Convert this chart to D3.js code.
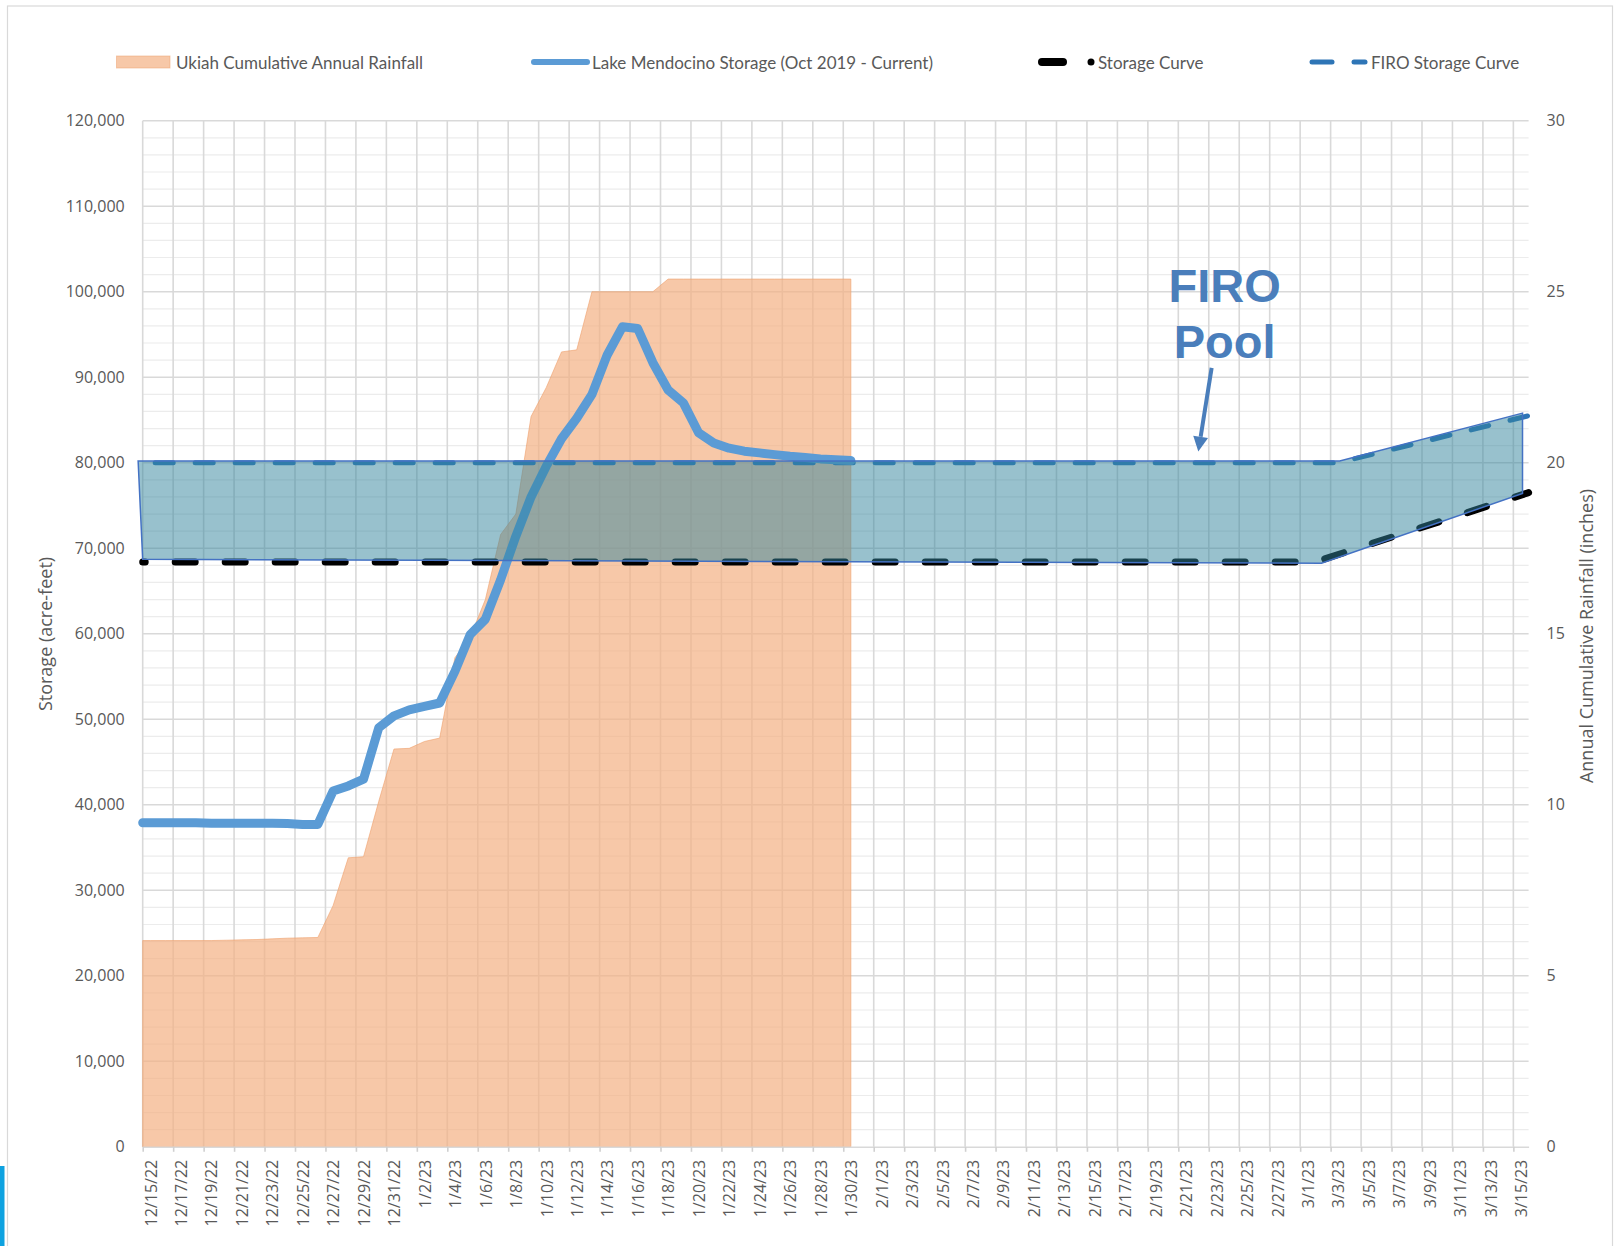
<!DOCTYPE html>
<html>
<head>
<meta charset="utf-8">
<script src="https://cdn.jsdelivr.net/npm/d3@7"></script>
<style>
html, body { margin: 0; padding: 0; background: #fff; }
svg { display: block; }
</style>
</head>
<body>
<div id="chart"></div>
<script>
// ---- data ----
var firstDay = "2022-12-15";
var lastDay = "2023-03-16";

// Lake Mendocino storage, acre-feet, one value a day from 12/15/22 to 1/30/23
var storageAF = [
	37900, 37900, 37900, 37900, 37850, 37850, 37850, 37850, 37850, 37800, 37700, 37700,
	41600, 42200, 43000, 49000, 50400, 51100, 51500, 51900, 55600, 59900, 61700, 66300,
	71400, 76000, 79600, 82800, 85200, 88000, 92600, 95900, 95700, 91700, 88500, 87000,
	83500, 82300, 81700, 81350, 81150, 80950, 80750, 80600, 80450, 80350, 80250
];

// Ukiah cumulative annual rainfall, inches, same days
var rainfallIn = [
	6.03, 6.03, 6.03, 6.03, 6.03, 6.04, 6.05, 6.06, 6.08, 6.10, 6.11, 6.12,
	7.05, 8.45, 8.48, 10.1, 11.63, 11.65, 11.85, 11.95, 14.3, 14.9, 16.0, 17.9,
	18.5, 21.35, 22.2, 23.24, 23.3, 25.0, 25.0, 25.0, 25.0, 25.0, 25.37, 25.37,
	25.37, 25.37, 25.37, 25.37, 25.37, 25.37, 25.37, 25.37, 25.37, 25.37, 25.37
];

var curveDates = ["2022-12-15T00:00", "2023-03-02T00:00", "2023-03-16T00:00"];
var storageCurveAF = [68400, 68400, 76500];

var firoDates = ["2022-12-15T00:00", "2023-03-03T12:00", "2023-03-16T00:00"];
var firoCurveAF = [80000, 80000, 85500];

// hand drawn FIRO pool shape: days after 12/15, acre-feet
var poolDays = [-0.3, 78.6, 90.6, 90.6, 77.4, 0];
var poolAF = [80200, 80200, 85800, 76400, 68250, 68700];

var storageTicks = [0, 10000, 20000, 30000, 40000, 50000, 60000, 70000, 80000, 90000, 100000, 110000, 120000];
var rainTicks = [0, 5, 10, 15, 20, 25, 30];

var legendLabels = [
	"Ukiah Cumulative Annual Rainfall",
	"Lake Mendocino Storage (Oct 2019 - Current)",
	"Storage Curve",
	"FIRO Storage Curve"
];

var poolText = ["FIRO", "Pool"];
var poolTextDate = "2023-02-24T01:00";
var poolTextAF = [98800, 92200];
var arrowFrom = ["2023-02-23T04:30", 91100];
var arrowTo = ["2023-02-22T07:30", 81300];

// ---- chart ----
function firo_chart(tag, width, height) {
	this.margin = {top: 120.7, right: 1617 - 1528.6, bottom: 1246 - 1146.8, left: 142.7};
	this.width = width - this.margin.left - this.margin.right;
	this.height = height - this.margin.top - this.margin.bottom;
	this.root = d3.select(tag)
		.append("svg")
		.attr("width", width)
		.attr("height", height);
	this.svg = this.root.append("g")
		.attr("transform", "translate(" + this.margin.left + "," + this.margin.top + ")");
	this.init();
}

firo_chart.prototype = {
	init : function() {
		var self = this;
		var pday = d3.utcParse("%Y-%m-%d");
		var ptime = d3.utcParse("%Y-%m-%dT%H:%M");
		self.t0 = pday(firstDay);
		self.t1 = pday(lastDay);
		self.ptime = ptime;
		self.x = d3.scaleUtc().domain([self.t0, self.t1]).range([0, self.width]);
		self.yL = d3.scaleLinear().domain([0, 120000]).range([self.height, 0]);
		self.yR = d3.scaleLinear().domain([0, 30]).range([self.height, 0]);

		// daily values sit in the middle of their day, first one carried to the left edge
		var daily = function(arr) {
			var pts = [{t: self.t0, v: arr[0]}];
			arr.forEach(function(v, i) {
				pts.push({t: d3.utcHour.offset(d3.utcDay.offset(self.t0, i), 12), v: v});
			});
			return pts;
		};
		self.storage = daily(storageAF);
		self.rain = daily(rainfallIn);
		self.curve = curveDates.map(function(d, i) { return {t: ptime(d), v: storageCurveAF[i]}; });
		self.firo = firoDates.map(function(d, i) { return {t: ptime(d), v: firoCurveAF[i]}; });
		self.pool = poolDays.map(function(d, i) {
			return {t: new Date(self.t0.getTime() + d * 864e5), v: poolAF[i]};
		});
	},
	frame : function() {
		var self = this;
		self.root.append("rect")
			.attr("x", 7.5).attr("y", 6)
			.attr("width", 1605).attr("height", 1300)
			.attr("fill", "#fff")
			.attr("stroke", "#d9d9d9")
			.attr("stroke-width", 1.2);
		self.root.append("rect")
			.attr("x", 0).attr("y", 1166)
			.attr("width", 4.5).attr("height", 80)
			.attr("fill", "#0ea2e0");
	},
	grid : function() {
		var self = this;
		var minor = d3.range(0, 120001, 2000).filter(function(v) { return v % 10000 != 0; });
		self.svg.append("g").selectAll("line")
			.data(minor).enter().append("line")
			.attr("x1", 0).attr("x2", self.width)
			.attr("y1", function(d) { return self.yL(d); })
			.attr("y2", function(d) { return self.yL(d); })
			.attr("stroke", "#ececec")
			.attr("stroke-width", 1.2);
		self.svg.append("g").selectAll("line")
			.data(storageTicks.slice(1)).enter().append("line")
			.attr("x1", 0).attr("x2", self.width)
			.attr("y1", function(d) { return self.yL(d); })
			.attr("y2", function(d) { return self.yL(d); })
			.attr("stroke", "#d9d9d9")
			.attr("stroke-width", 1.6);
		self.svg.append("g").selectAll("line")
			.data(self.tickDates).enter().append("line")
			.attr("x1", function(d) { return self.x(d); })
			.attr("x2", function(d) { return self.x(d); })
			.attr("y1", 0).attr("y2", self.height)
			.attr("stroke", "#d9d9d9")
			.attr("stroke-width", 1.6);
	},
	axes : function() {
		var self = this;
		var half = self.x(d3.utcHour.offset(self.t0, 12)) - self.x(self.t0);
		var gx = self.svg.append("g")
			.attr("transform", "translate(0," + self.height + ")")
			.call(d3.axisBottom(self.x)
				.tickValues(self.tickDates)
				.tickFormat(d3.utcFormat("%-m/%-d/%y"))
				.tickSize(5)
				.tickSizeOuter(0));
		gx.select(".domain").attr("stroke", "#d9d9d9").attr("stroke-width", 1.6);
		gx.selectAll(".tick line").attr("stroke", "#d0d0d0").attr("stroke-width", 1.6);
		gx.selectAll(".tick text")
			.attr("transform", "translate(" + half + ",13) rotate(-90)")
			.attr("y", 0)
			.attr("dy", "0.36em")
			.attr("text-anchor", "end");

		var gl = self.svg.append("g")
			.call(d3.axisLeft(self.yL)
				.tickValues(storageTicks)
				.tickFormat(d3.format(","))
				.tickSize(0)
				.tickPadding(18));
		var gr = self.svg.append("g")
			.attr("transform", "translate(" + self.width + ",0)")
			.call(d3.axisRight(self.yR)
				.tickValues(rainTicks)
				.tickSize(0)
				.tickPadding(18));
		gl.select(".domain").remove();
		gr.select(".domain").remove();

		[gx, gl, gr].forEach(function(g) {
			g.attr("font-family", "'Open Sans', sans-serif")
				.attr("font-size", 16);
			g.selectAll("text").attr("fill", "#595959");
		});

		self.root.append("text")
			.attr("transform", "translate(45,634) rotate(-90)")
			.attr("text-anchor", "middle")
			.attr("dominant-baseline", "central")
			.style("font-family", "'Open Sans', sans-serif")
			.style("font-size", "18px")
			.style("fill", "#595959")
			.text("Storage (acre-feet)");
		self.root.append("text")
			.attr("transform", "translate(1586,636) rotate(-90)")
			.attr("text-anchor", "middle")
			.attr("dominant-baseline", "central")
			.style("font-family", "'Open Sans', sans-serif")
			.style("font-size", "18px")
			.style("fill", "#595959")
			.text("Annual Cumulative Rainfall (inches)");
	},
	series : function() {
		var self = this;
		var area = d3.area()
			.x(function(d) { return self.x(d.t); })
			.y0(self.height)
			.y1(function(d) { return self.yR(d.v); });
		self.svg.append("path")
			.datum(self.rain)
			.attr("d", area)
			.attr("fill", "#f4b183")
			.attr("fill-opacity", 0.7)
			.attr("stroke", "#eea06c")
			.attr("stroke-opacity", 0.6)
			.attr("stroke-width", 1);

		var line = d3.line()
			.x(function(d) { return self.x(d.t); })
			.y(function(d) { return self.yL(d.v); });

		self.svg.append("path")
			.datum(self.curve)
			.attr("d", line)
			.attr("fill", "none")
			.attr("stroke", "#000")
			.attr("stroke-width", 7)
			.attr("stroke-linecap", "round")
			.attr("stroke-dasharray", "20 30")
			.attr("stroke-dashoffset", 17.5);

		self.svg.append("path")
			.datum(self.firo)
			.attr("d", line)
			.attr("fill", "none")
			.attr("stroke", "#2e75b6")
			.attr("stroke-width", 5)
			.attr("stroke-linecap", "round")
			.attr("stroke-dasharray", "18 22")
			.attr("stroke-dashoffset", 27.5);

		self.svg.append("path")
			.datum(self.storage)
			.attr("d", line)
			.attr("fill", "none")
			.attr("stroke", "#5b9bd5")
			.attr("stroke-width", 9)
			.attr("stroke-linejoin", "round")
			.attr("stroke-linecap", "round");

		self.svg.append("path")
			.datum(self.pool)
			.attr("d", d3.line()
				.x(function(d) { return self.x(d.t); })
				.y(function(d) { return self.yL(d.v); })
				.curve(d3.curveLinearClosed))
			.attr("fill", "#31849b")
			.attr("fill-opacity", 0.5)
			.attr("stroke", "#4472c4")
			.attr("stroke-width", 1.5);
	},
	note : function() {
		var self = this;
		var ptime = self.ptime;
		var tx = self.x(ptime(poolTextDate));
		self.svg.selectAll("text.pool")
			.data(poolText).enter()
			.append("text")
			.attr("class", "pool")
			.attr("x", tx)
			.attr("y", function(d, i) { return self.yL(poolTextAF[i]); })
			.attr("text-anchor", "middle")
			.style("font-family", "'Liberation Sans', Arial, sans-serif")
			.style("font-weight", "bold")
			.style("font-size", "47px")
			.style("fill", "#4a7ebb")
			.text(function(d) { return d; });

		var x1 = self.x(ptime(arrowFrom[0])), y1 = self.yL(arrowFrom[1]);
		var x2 = self.x(ptime(arrowTo[0])), y2 = self.yL(arrowTo[1]);
		var len = Math.sqrt((x2 - x1) * (x2 - x1) + (y2 - y1) * (y2 - y1));
		var ux = (x2 - x1) / len, uy = (y2 - y1) / len;
		var hl = 15, hw = 7.5;
		var bx = x2 - ux * hl, by = y2 - uy * hl;
		self.svg.append("line")
			.attr("x1", x1).attr("y1", y1)
			.attr("x2", bx).attr("y2", by)
			.attr("stroke", "#4a7ebb")
			.attr("stroke-width", 4);
		self.svg.append("path")
			.attr("d", "M" + x2 + "," + y2 +
				"L" + (bx - uy * hw) + "," + (by + ux * hw) +
				"L" + (bx + uy * hw) + "," + (by - ux * hw) + "Z")
			.attr("fill", "#4a7ebb");
	},
	legend : function() {
		var self = this;
		var lg = self.root.append("g")
			.style("font-family", "Lato, sans-serif")
			.style("font-size", "17px");
		var cy = 62;
		lg.append("rect")
			.attr("x", 116.5).attr("y", 56)
			.attr("width", 53.5).attr("height", 12)
			.attr("fill", "#f4b183").attr("fill-opacity", 0.7)
			.attr("stroke", "#eea06c").attr("stroke-opacity", 0.5);
		lg.append("line")
			.attr("x1", 534).attr("x2", 587)
			.attr("y1", cy).attr("y2", cy)
			.attr("stroke", "#5b9bd5").attr("stroke-width", 6)
			.attr("stroke-linecap", "round");
		lg.append("line")
			.attr("x1", 1042).attr("x2", 1063)
			.attr("y1", cy).attr("y2", cy)
			.attr("stroke", "#000").attr("stroke-width", 8)
			.attr("stroke-linecap", "round");
		lg.append("circle")
			.attr("cx", 1091).attr("cy", cy).attr("r", 3.5)
			.attr("fill", "#000");
		lg.append("line")
			.attr("x1", 1312).attr("x2", 1332)
			.attr("y1", cy).attr("y2", cy)
			.attr("stroke", "#2e75b6").attr("stroke-width", 5)
			.attr("stroke-linecap", "round");
		lg.append("line")
			.attr("x1", 1354).attr("x2", 1365)
			.attr("y1", cy).attr("y2", cy)
			.attr("stroke", "#2e75b6").attr("stroke-width", 5)
			.attr("stroke-linecap", "round");
		var tx = [176, 592, 1098, 1371];
		lg.selectAll("text")
			.data(legendLabels).enter()
			.append("text")
			.attr("x", function(d, i) { return tx[i]; })
			.attr("y", cy)
			.attr("dominant-baseline", "central")
			.style("fill", "#595959")
			.text(function(d) { return d; });
	},
	draw : function() {
		var self = this;
		self.tickDates = d3.utcDay.range(self.t0, self.t1, 2);
		self.frame();
		self.svg.raise();
		self.grid();
		self.series();
		self.axes();
		self.note();
		self.legend();
	}
};

var chart = new firo_chart("#chart", 1617, 1246);
chart.draw();
</script>
</body>
</html>
